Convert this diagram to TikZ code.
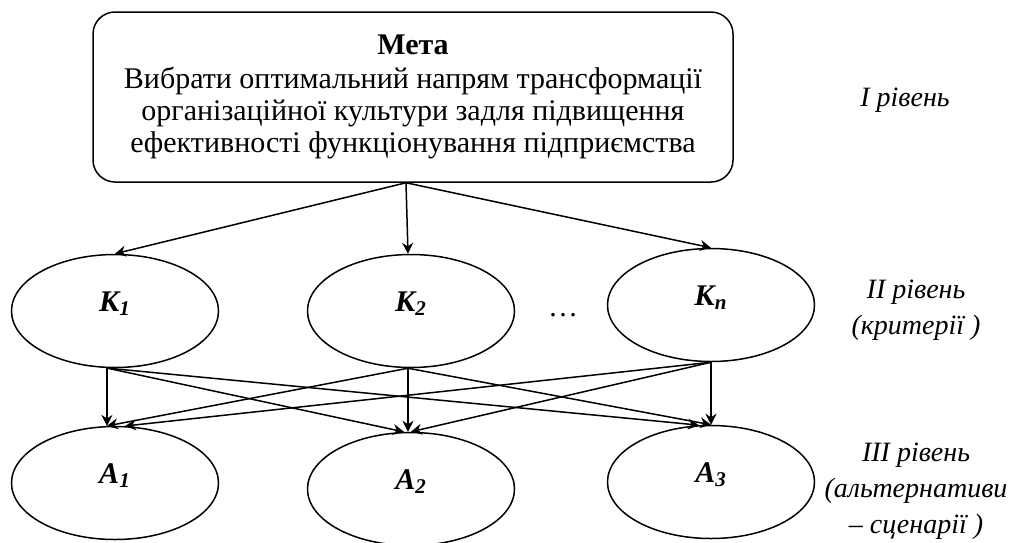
\documentclass[tikz,border=0pt]{standalone}
\usepackage{fontspec}
\setmainfont{Liberation Serif}
\usetikzlibrary{arrows.meta,shapes.geometric}

\begin{document}
\begin{tikzpicture}[x=0.5pt, y=-0.5pt,
    goal/.style ={rectangle, rounded corners=11pt, draw, line width=0.75pt,
      minimum width=320pt, minimum height=85pt, align=center,
      font=\fontsize{15}{16}\selectfont},
    specification/.style ={ellipse, draw, line width=0.75pt,
      minimum width=103.5pt, minimum height=56.5pt, inner sep=0pt,
      text height=10pt, text depth=9.5pt,
      font=\fontsize{15}{16}\selectfont\bfseries\itshape},
    level/.style ={align=center, font=\fontsize{14}{18}\selectfont\itshape},
    link/.style ={-{Stealth[length=5.5pt, width=5.5pt, inset=1.8pt]}, line width=0.75pt}]
   \useasboundingbox (0,0) rectangle (1011,542);

   \node[goal] (M) at (413,97) {\textbf{Мета}\\[1pt]Вибрати оптимальний напрям трансформації\\
     організаційної культури задля підвищення\\ефективності функціонування підприємства};

   \node[specification] (K1) at (115,311) {К\textsubscript{1}};
   \node[specification] (K2) at (411,311) {К\textsubscript{2}};
   \node[specification] (Kn) at (711,305) {К\textsubscript{n}};
   \node[font=\fontsize{15}{16}\selectfont] (dots) at (563,315) {\ldots};

   \node[specification] (A1) at (115,483) {А\textsubscript{1}};
   \node[specification] (A2) at (411,489) {А\textsubscript{2}};
   \node[specification] (A3) at (711,482) {А\textsubscript{3}};

   \node[level] (L1) at (905,100) {I рівень};
   \node[level] (L2) at (916,310) {II рівень\\(критерії )};
   \node[level] (L3) at (916,491) {III рівень\\(альтернативи\\– сценарії )};

   \draw[link] ([xshift=-3.5pt]M.south) to (K1.north);
   \draw[link] ([xshift=-3.5pt]M.south) to (K2.93);
   \draw[link] ([xshift=-3.5pt]M.south) to (Kn.north);

   \draw[link] (K1.262) to (A1.98);
   \draw[link] (K1.262) to (A2.97);
   \draw[link] (K1.262) to (A3.102);
   \draw[link] (K2.267) to (A1.98);
   \draw[link] (K2.267) to (A2.93);
   \draw[link] (K2.267) to (A3.north);
   \draw[link] (Kn.south) to (A1.80);
   \draw[link] (Kn.south) to (A2.north);
   \draw[link] (Kn.south) to (A3.north);
 \end{tikzpicture}
\end{document}
